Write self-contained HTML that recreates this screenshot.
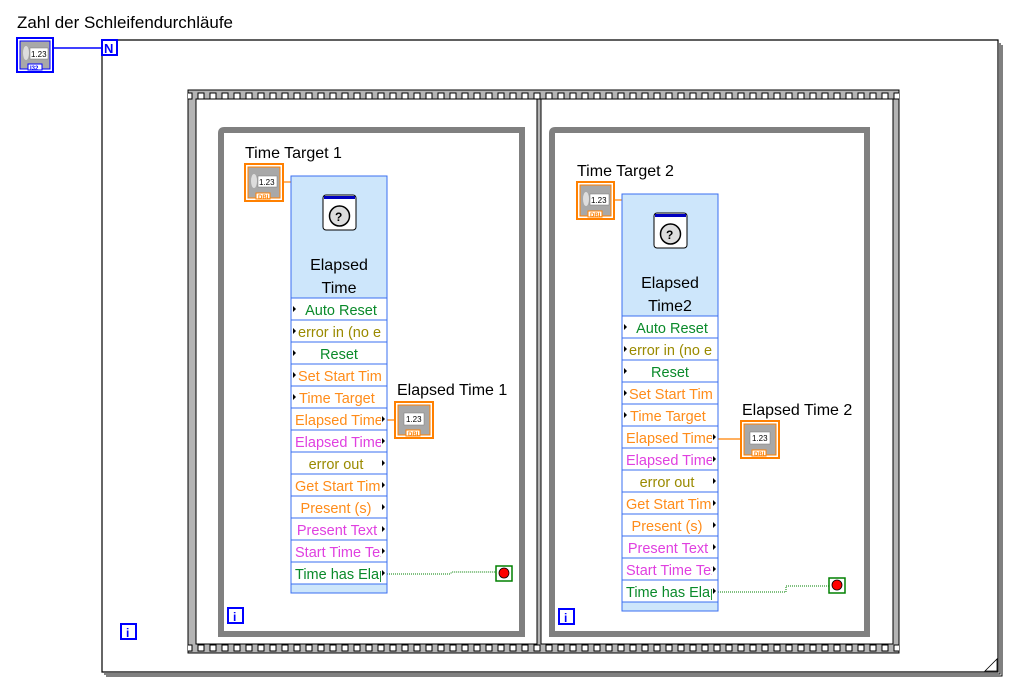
<!DOCTYPE html>
<html><head><meta charset="utf-8"><style>
html,body{margin:0;padding:0;background:#fff;}
svg{display:block;font-family:"Segoe UI","Liberation Sans",sans-serif;}
</style></head><body>
<svg width="1032" height="692" viewBox="0 0 1032 692" xmlns="http://www.w3.org/2000/svg">
<defs>
<pattern id="film" x="197" y="0" width="12" height="700" patternUnits="userSpaceOnUse">
<rect x="1" y="93" width="6" height="6" fill="#fff" stroke="#000" stroke-width="1"/>
<rect x="1" y="645" width="6" height="6" fill="#fff" stroke="#000" stroke-width="1"/>
</pattern>
<clipPath id="c1"><rect x="0" y="0" width="90" height="420"/></clipPath>
</defs>

<text x="17" y="28" font-size="16.5" fill="#000" textLength="216" lengthAdjust="spacingAndGlyphs">Zahl der Schleifendurchläufe</text>

<rect x="17" y="38" width="36" height="34" fill="#fff" stroke="#0000ff" stroke-width="2"/>
<rect x="20" y="41" width="30" height="28" fill="#a8a8a8" stroke="#0000ff" stroke-width="1"/>
<ellipse cx="26" cy="53" rx="3" ry="7" fill="#ddd"/>
<rect x="30" y="48" width="18" height="11" fill="#fff" stroke="#777" stroke-width="0.5"/>
<text x="31" y="57" font-size="8" fill="#000">1.23</text>
<rect x="28" y="64" width="14" height="6" fill="#fff" stroke="#0000ff"/>
<text x="30" y="70" font-size="6" fill="#0000ff" font-weight="bold">I32</text>
<line x1="53" y1="48" x2="102" y2="48" stroke="#0000ff" stroke-width="1.5"/>

<polyline points="102,40 998,40 998,672 102,672 102,40" fill="none" stroke="#000" stroke-width="1.2"/>
<polyline points="1000,43 1000,674 104,674" fill="none" stroke="#000" stroke-width="1"/>
<polyline points="1002,45 1002,676 106,676" fill="none" stroke="#000" stroke-width="1"/>
<path d="M985,671 L997,659 L997,671 Z" fill="#fff" stroke="#000" stroke-width="0.8"/>
<rect x="102" y="40" width="15" height="15" fill="#fff" stroke="#0000ff" stroke-width="2"/>
<text x="104" y="53" font-size="13" font-weight="bold" fill="#0000ff">N</text>
<rect x="121" y="624" width="15" height="15" fill="#fff" stroke="#0000ff" stroke-width="2"/>
<text x="126" y="637" font-size="12" font-weight="bold" fill="#0000ff">i</text>

<rect x="188" y="90" width="711" height="563" fill="#b4b4b4" stroke="#000" stroke-width="1"/>
<rect x="188" y="90" width="711" height="563" fill="url(#film)"/>
<rect x="196" y="99" width="341" height="545" fill="#fff" stroke="#000" stroke-width="1"/>
<rect x="541" y="99" width="352" height="545" fill="#fff" stroke="#000" stroke-width="1"/>

<path d="M221,634 L221,133 Q221,130 224,130 L522,130 L522,634 Z" fill="none" stroke="#808080" stroke-width="6"/>
<rect x="228" y="608" width="15" height="15" fill="#fff" stroke="#0000ff" stroke-width="2"/>
<text x="233" y="621" font-size="12" font-weight="bold" fill="#0000ff">i</text>

<path d="M552,634 L552,133 Q552,130 555,130 L867,130 L867,634 Z" fill="none" stroke="#808080" stroke-width="6"/>
<rect x="559" y="609" width="15" height="15" fill="#fff" stroke="#0000ff" stroke-width="2"/>
<text x="564" y="622" font-size="12" font-weight="bold" fill="#0000ff">i</text>

<text x="245" y="158" font-size="16" fill="#000">Time Target 1</text>
<rect x="245" y="164" width="38" height="37" fill="#fff" stroke="#ff8000" stroke-width="2"/>
<rect x="248" y="167" width="32" height="31" fill="#a8a8a8" stroke="#ff8000" stroke-width="1"/>
<ellipse cx="254" cy="181" rx="3" ry="7" fill="#ddd"/>
<rect x="258" y="176" width="19" height="11" fill="#fff" stroke="#777" stroke-width="0.5"/>
<text x="259" y="185" font-size="8">1.23</text>
<rect x="256" y="193" width="14" height="6" fill="#fff" stroke="#ff8000"/>
<text x="258" y="199" font-size="6" fill="#ff8000" font-weight="bold">DBL</text>
<polyline points="283,182 291,182" stroke="#ff8000" stroke-width="1.2"/>

<text x="397" y="395" font-size="16" fill="#000">Elapsed Time 1</text>
<rect x="395" y="402" width="38" height="36" fill="#fff" stroke="#ff8000" stroke-width="2"/>
<rect x="398" y="405" width="32" height="30" fill="#a8a8a8" stroke="#ff8000" stroke-width="1"/>
<rect x="404" y="413" width="20" height="12" fill="#fff" stroke="#777" stroke-width="0.5"/>
<text x="406" y="422" font-size="8">1.23</text>
<rect x="406" y="430" width="14" height="6" fill="#fff" stroke="#ff8000"/>
<text x="408" y="436" font-size="6" fill="#ff8000" font-weight="bold">DBL</text>
<line x1="387" y1="420" x2="395" y2="420" stroke="#ff8000" stroke-width="1.2"/>

<polyline points="387,574 450,574 452,572 496,572" fill="none" stroke="#008000" stroke-width="1" stroke-dasharray="1,1"/>
<rect x="496" y="566" width="16" height="15" fill="#fff" stroke="#008000" stroke-width="1.5"/>
<circle cx="504" cy="573" r="5" fill="#f00" stroke="#000" stroke-width="0.8"/>

<g transform="translate(291,176)">
<rect x="0" y="0" width="96" height="417" fill="#cde6fb" stroke="#3a6ff0" stroke-width="1"/>
<rect x="32" y="19" width="33" height="35" rx="3" fill="#fff" stroke="#000"/>
<rect x="33" y="20" width="31" height="3" fill="#0000c0"/>
<circle cx="48.5" cy="40" r="10" fill="#ddd" stroke="#000" stroke-width="1.5"/>
<text x="44" y="45" font-size="12" font-weight="bold">?</text>
<text x="48" y="94" font-size="16" text-anchor="middle" fill="#000">Elapsed</text>
<text x="48" y="117" font-size="16" text-anchor="middle" fill="#000">Time</text>
<rect x="0" y="122" width="96" height="286" fill="#fff" stroke="#3a6ff0"/>
<g stroke="#3a6ff0" stroke-width="1">
<line x1="0" y1="144" x2="96" y2="144"/><line x1="0" y1="166" x2="96" y2="166"/><line x1="0" y1="188" x2="96" y2="188"/><line x1="0" y1="210" x2="96" y2="210"/><line x1="0" y1="232" x2="96" y2="232"/><line x1="0" y1="254" x2="96" y2="254"/><line x1="0" y1="276" x2="96" y2="276"/><line x1="0" y1="298" x2="96" y2="298"/><line x1="0" y1="320" x2="96" y2="320"/><line x1="0" y1="342" x2="96" y2="342"/><line x1="0" y1="364" x2="96" y2="364"/><line x1="0" y1="386" x2="96" y2="386"/>
</g>
<g clip-path="url(#c1)" font-size="14.5">
<text x="50" y="139" text-anchor="middle" fill="#0a8a2a">Auto Reset</text>
<text x="7" y="161" fill="#9a8a00">error in (no e</text>
<text x="48" y="183" text-anchor="middle" fill="#0a8a2a">Reset</text>
<text x="7" y="205" fill="#ff8c1a">Set Start Time</text>
<text x="8" y="227" fill="#ff8c1a">Time Target</text>
<text x="4" y="249" fill="#ff8c1a">Elapsed Time</text>
<text x="4" y="271" fill="#e040e0">Elapsed Time</text>
<text x="45" y="293" text-anchor="middle" fill="#9a8a00">error out</text>
<text x="4" y="315" fill="#ff8c1a">Get Start Time</text>
<text x="45" y="337" text-anchor="middle" fill="#ff8c1a">Present (s)</text>
<text x="46" y="359" text-anchor="middle" fill="#e040e0">Present Text</text>
<text x="4" y="381" fill="#e040e0">Start Time Text</text>
<text x="4" y="403" fill="#0a8a2a">Time has Elapsed</text>
</g>
<g fill="#000">
<path d="M2,130 L5,133 L2,136Z"/><path d="M2,152 L5,155 L2,158Z"/><path d="M2,174 L5,177 L2,180Z"/><path d="M2,196 L5,199 L2,202Z"/><path d="M2,218 L5,221 L2,224Z"/>
<path d="M91,240 L94,243 L91,246Z"/><path d="M91,262 L94,265 L91,268Z"/><path d="M91,284 L94,287 L91,290Z"/><path d="M91,306 L94,309 L91,312Z"/><path d="M91,328 L94,331 L91,334Z"/><path d="M91,350 L94,353 L91,356Z"/><path d="M91,372 L94,375 L91,378Z"/><path d="M91,394 L94,397 L91,400Z"/>
</g>
</g>

<text x="577" y="176" font-size="16" fill="#000">Time Target 2</text>
<rect x="577" y="182" width="37" height="37" fill="#fff" stroke="#ff8000" stroke-width="2"/>
<rect x="580" y="185" width="31" height="31" fill="#a8a8a8" stroke="#ff8000" stroke-width="1"/>
<ellipse cx="586" cy="199" rx="3" ry="7" fill="#ddd"/>
<rect x="590" y="194" width="19" height="11" fill="#fff" stroke="#777" stroke-width="0.5"/>
<text x="591" y="203" font-size="8">1.23</text>
<rect x="588" y="211" width="14" height="6" fill="#fff" stroke="#ff8000"/>
<text x="590" y="217" font-size="6" fill="#ff8000" font-weight="bold">DBL</text>
<line x1="614" y1="200" x2="622" y2="200" stroke="#ff8000" stroke-width="1.2"/>

<text x="742" y="415" font-size="16" fill="#000">Elapsed Time 2</text>
<rect x="741" y="421" width="38" height="37" fill="#fff" stroke="#ff8000" stroke-width="2"/>
<rect x="744" y="424" width="32" height="31" fill="#a8a8a8" stroke="#ff8000" stroke-width="1"/>
<rect x="750" y="432" width="20" height="12" fill="#fff" stroke="#777" stroke-width="0.5"/>
<text x="752" y="441" font-size="8">1.23</text>
<rect x="752" y="450" width="14" height="6" fill="#fff" stroke="#ff8000"/>
<text x="754" y="456" font-size="6" fill="#ff8000" font-weight="bold">DBL</text>
<line x1="718" y1="439" x2="741" y2="439" stroke="#ff8000" stroke-width="1.2"/>

<polyline points="718,592 786,592 786,586 829,586" fill="none" stroke="#008000" stroke-width="1" stroke-dasharray="1,1"/>
<rect x="829" y="578" width="16" height="15" fill="#fff" stroke="#008000" stroke-width="1.5"/>
<circle cx="837" cy="585" r="5" fill="#f00" stroke="#000" stroke-width="0.8"/>

<g transform="translate(622,194)">
<rect x="0" y="0" width="96" height="417" fill="#cde6fb" stroke="#3a6ff0" stroke-width="1"/>
<rect x="32" y="19" width="33" height="35" rx="3" fill="#fff" stroke="#000"/>
<rect x="33" y="20" width="31" height="3" fill="#0000c0"/>
<circle cx="48.5" cy="40" r="10" fill="#ddd" stroke="#000" stroke-width="1.5"/>
<text x="44" y="45" font-size="12" font-weight="bold">?</text>
<text x="48" y="94" font-size="16" text-anchor="middle" fill="#000">Elapsed</text>
<text x="48" y="117" font-size="16" text-anchor="middle" fill="#000">Time2</text>
<rect x="0" y="122" width="96" height="286" fill="#fff" stroke="#3a6ff0"/>
<g stroke="#3a6ff0" stroke-width="1">
<line x1="0" y1="144" x2="96" y2="144"/><line x1="0" y1="166" x2="96" y2="166"/><line x1="0" y1="188" x2="96" y2="188"/><line x1="0" y1="210" x2="96" y2="210"/><line x1="0" y1="232" x2="96" y2="232"/><line x1="0" y1="254" x2="96" y2="254"/><line x1="0" y1="276" x2="96" y2="276"/><line x1="0" y1="298" x2="96" y2="298"/><line x1="0" y1="320" x2="96" y2="320"/><line x1="0" y1="342" x2="96" y2="342"/><line x1="0" y1="364" x2="96" y2="364"/><line x1="0" y1="386" x2="96" y2="386"/>
</g>
<g clip-path="url(#c1)" font-size="14.5">
<text x="50" y="139" text-anchor="middle" fill="#0a8a2a">Auto Reset</text>
<text x="7" y="161" fill="#9a8a00">error in (no e</text>
<text x="48" y="183" text-anchor="middle" fill="#0a8a2a">Reset</text>
<text x="7" y="205" fill="#ff8c1a">Set Start Time</text>
<text x="8" y="227" fill="#ff8c1a">Time Target</text>
<text x="4" y="249" fill="#ff8c1a">Elapsed Time</text>
<text x="4" y="271" fill="#e040e0">Elapsed Time</text>
<text x="45" y="293" text-anchor="middle" fill="#9a8a00">error out</text>
<text x="4" y="315" fill="#ff8c1a">Get Start Time</text>
<text x="45" y="337" text-anchor="middle" fill="#ff8c1a">Present (s)</text>
<text x="46" y="359" text-anchor="middle" fill="#e040e0">Present Text</text>
<text x="4" y="381" fill="#e040e0">Start Time Text</text>
<text x="4" y="403" fill="#0a8a2a">Time has Elapsed</text>
</g>
<g fill="#000">
<path d="M2,130 L5,133 L2,136Z"/><path d="M2,152 L5,155 L2,158Z"/><path d="M2,174 L5,177 L2,180Z"/><path d="M2,196 L5,199 L2,202Z"/><path d="M2,218 L5,221 L2,224Z"/>
<path d="M91,240 L94,243 L91,246Z"/><path d="M91,262 L94,265 L91,268Z"/><path d="M91,284 L94,287 L91,290Z"/><path d="M91,306 L94,309 L91,312Z"/><path d="M91,328 L94,331 L91,334Z"/><path d="M91,350 L94,353 L91,356Z"/><path d="M91,372 L94,375 L91,378Z"/><path d="M91,394 L94,397 L91,400Z"/>
</g>
</g>
</svg>
</body></html>
